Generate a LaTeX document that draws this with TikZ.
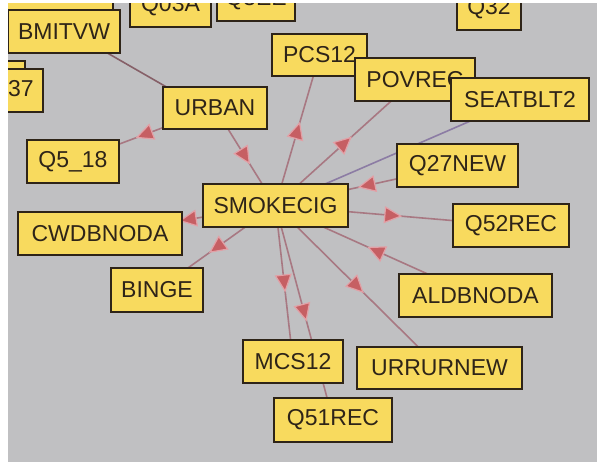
\documentclass[tikz,border=0pt]{standalone}
\usepackage{fontspec}
\setmainfont{Liberation Sans}
\usetikzlibrary{arrows.meta, decorations.markings}
\definecolor{canvasgray}{HTML}{C0C0C2}
\definecolor{nodefill}{HTML}{F8DA5E}
\definecolor{nodeedge}{HTML}{2E2418}
\definecolor{linkmauve}{HTML}{A87882}
\definecolor{linkviolet}{HTML}{8C7CA4}
\definecolor{tipred}{HTML}{C65F63}
\definecolor{tippink}{HTML}{E2A0A6}
\pgfdeclarelayer{canvas}
\pgfdeclarelayer{edges}
\pgfsetlayers{canvas,edges,main}
\tikzset{
    varbox/.style={rectangle, draw=nodeedge, fill=nodefill, line width=1pt, minimum height=21.5pt, inner sep=0pt, text=nodeedge, font=\fontsize{11.5}{13}\selectfont},
    link/.style={linkmauve, line width=0.8pt},
    dirlink/.style={link, postaction={decorate}, decoration={markings, mark=at position 0.5 with {\arrow[xshift=4.5pt]{Triangle[length=9pt,width=8.5pt,fill=tipred,color=tippink,line width=0.6pt]}}}},
}

\begin{document}
\begin{tikzpicture}[x=0.5pt,y=-0.5pt]
\useasboundingbox (0,0) rectangle (597,462);
\begin{pgfonlayer}{canvas}
\fill[white] (0,0) rectangle (597,462);
\fill[canvasgray] (8,3) rectangle (597,462);
\end{pgfonlayer}

\begin{scope}
\clip (8,3) rectangle (597,462);
\node[varbox,minimum width=57.5pt] (hiddentop) at (55.5,-1.5) {};
\node[varbox,minimum width=40.5pt] (Q03A) at (170.5,5.5) {Q03A};
\node[varbox,minimum width=39pt] (Q3EE) at (256,-0.5) {Q3EE};
\node[varbox,minimum width=32pt] (Q32) at (489,8.5) {Q32};
\node[varbox,minimum width=56pt] (BMITVW) at (64,31.5) {BMITVW};
\node[varbox,minimum width=42.5pt] (hiddenleft) at (-17.5,82.5) {};
\node[varbox,minimum width=31pt] (Q37) at (12,90.5) {Q37};
\node[varbox,minimum width=52pt,minimum height=21pt] (URBAN) at (215,108) {URBAN};
\node[varbox,minimum width=47.5pt,minimum height=21pt] (PCS12) at (319.5,55) {PCS12};
\node[varbox,minimum width=60pt] (POVREC) at (415,79.5) {POVREC};
\node[varbox,minimum width=69pt] (SEATBLT2) at (520,99.5) {SEATBLT2};
\node[varbox,minimum width=60.5pt] (Q27NEW) at (457.5,165.5) {Q27NEW};
\node[varbox,minimum width=72.5pt] (SMOKECIG) at (275.5,205.5) {SMOKECIG};
\node[varbox,minimum width=46pt] (Q5_18) at (73,161.5) {Q5\_18};
\node[varbox,minimum width=82pt] (CWDBNODA) at (100,233.5) {CWDBNODA};
\node[varbox,minimum width=46pt,minimum height=22pt] (BINGE) at (157,290) {BINGE};
\node[varbox,minimum width=58pt] (Q52REC) at (511,225.5) {Q52REC};
\node[varbox,minimum width=76.5pt] (ALDBNODA) at (475.5,295.5) {ALDBNODA};
\node[varbox,minimum width=50pt] (MCS12) at (293,361.5) {MCS12};
\node[varbox,minimum width=82.5pt,minimum height=21pt] (URRURNEW) at (439.5,368) {URRURNEW};
\node[varbox,minimum width=59pt,minimum height=22pt] (Q51REC) at (333,420) {Q51REC};
\end{scope}

\begin{pgfonlayer}{edges}
\draw[link,linkmauve!80!black] ([xshift=3pt]BMITVW.center) -- ([xshift=-6pt]URBAN.center);
\draw[dirlink] (URBAN.center) -- (Q5_18.center);
\draw[dirlink] (URBAN.center) -- (SMOKECIG.center);
\draw[dirlink] (SMOKECIG.center) -- (PCS12.center);
\draw[dirlink] (SMOKECIG.center) -- (POVREC.center);
\draw[link,linkviolet] (SMOKECIG.center) -- (SEATBLT2.center);
\draw[dirlink] (Q27NEW.center) -- (SMOKECIG.center);
\draw[dirlink] (SMOKECIG.center) -- (Q52REC.center);
\draw[dirlink] (ALDBNODA.center) -- (SMOKECIG.center);
\draw[dirlink] (SMOKECIG.center) -- (URRURNEW.center);
\draw[dirlink] (SMOKECIG.center) -- (MCS12.center);
\draw[dirlink] (SMOKECIG.center) -- (Q51REC.center);
\draw[dirlink] (SMOKECIG.center) -- (CWDBNODA.center);
\draw[dirlink] (SMOKECIG.center) -- (BINGE.center);
\end{pgfonlayer}
\end{tikzpicture}
\end{document}
